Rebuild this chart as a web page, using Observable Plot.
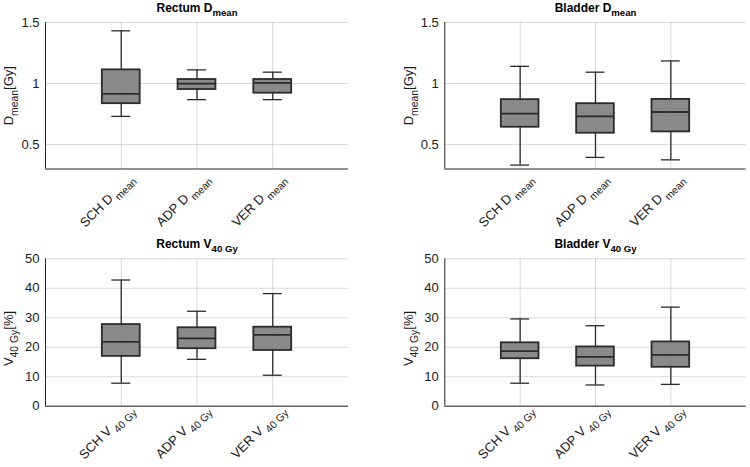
<!DOCTYPE html>
<html>
<head>
<meta charset="utf-8">
<script src="https://cdn.jsdelivr.net/npm/d3@7"></script>
<script src="https://cdn.jsdelivr.net/npm/@observablehq/plot@0.6"></script>
<style>
  html, body { margin: 0; padding: 0; background: #fff; }
  #root { position: relative; width: 750px; height: 467px; overflow: hidden; background: #fff; }
  #root svg { position: absolute; }
  #root text { white-space: pre; }
</style>
</head>
<body>
<div id="root"></div>
<script>
// ---------- data ----------
const groups = ["SCH", "ADP", "VER"];

// Rectum D_mean [Gy]
const rectumDmeanMin = [0.731, 0.868, 0.868];
const rectumDmeanQ1  = [0.835, 0.951, 0.921];
const rectumDmeanMed = [0.916, 1.000, 1.005];
const rectumDmeanQ3  = [1.112, 1.033, 1.033];
const rectumDmeanMax = [1.432, 1.112, 1.093];

// Bladder D_mean [Gy]
const bladderDmeanMin = [0.332, 0.395, 0.375];
const bladderDmeanQ1  = [0.642, 0.593, 0.604];
const bladderDmeanMed = [0.753, 0.731, 0.767];
const bladderDmeanQ3  = [0.868, 0.835, 0.870];
const bladderDmeanMax = [1.141, 1.093, 1.185];

// Rectum V40Gy [%]
const rectumV40Min = [7.8, 15.9, 10.5];
const rectumV40Q1  = [16.9, 19.5, 18.9];
const rectumV40Med = [21.8, 23.0, 24.2];
const rectumV40Q3  = [27.7, 26.6, 26.8];
const rectumV40Max = [42.8, 32.2, 38.2];

// Bladder V40Gy [%]
const bladderV40Min = [7.8, 7.2, 7.4];
const bladderV40Q1  = [16.1, 13.6, 13.2];
const bladderV40Med = [18.7, 16.7, 17.4];
const bladderV40Q3  = [21.5, 20.1, 21.8];
const bladderV40Max = [29.6, 27.3, 33.6];

const dmeanTicks = [0.5, 1, 1.5];
const dmeanTickLabels = ["0.5", "1", "1.5"];
const v40Ticks = [0, 10, 20, 30, 40, 50];
const v40TickLabels = ["0", "10", "20", "30", "40", "50"];

// ---------- helpers ----------
const FONT = "'Liberation Sans', Arial, Helvetica, sans-serif";
const DARK = "#2b2b2b";

function rows(mn, q1, med, q3, mx, suffix) {
  return groups.map((g, i) => ({
    label: g + " " + suffix, pos: i + 1,
    min: mn[i], q1: q1[i], med: med[i], q3: q3[i], max: mx[i]
  }));
}

function subify(svg) {
  d3.select(svg).selectAll("text").each(function () {
    const txt = this.textContent;
    if (!txt.includes("_{")) return;
    const fs = parseFloat(getComputedStyle(this).fontSize) || 12;
    const subSize = +(fs * 0.8).toFixed(2);
    const shift = +(fs * 0.38).toFixed(2);
    const parts = txt.split(/(_\{[^}]*\})/).filter(s => s.length);
    while (this.firstChild) this.removeChild(this.firstChild);
    let shifted = false;
    for (const p of parts) {
      const ts = document.createElementNS("http://www.w3.org/2000/svg", "tspan");
      if (p.startsWith("_{")) {
        ts.textContent = p.slice(2, -1);
        ts.setAttribute("font-size", subSize);
        ts.setAttribute("dy", shift);
        shifted = true;
      } else {
        ts.textContent = p;
        if (shifted) { ts.setAttribute("dy", -shift); shifted = false; }
      }
      this.appendChild(ts);
    }
  });
}

function panel(cfg) {
  const data = cfg.data;
  const svg = Plot.plot({
    width: 375,
    height: cfg.height,
    marginLeft: cfg.mL, marginRight: cfg.mR, marginTop: cfg.mT, marginBottom: cfg.mB,
    style: { fontFamily: FONT, background: "transparent", overflow: "visible" },
    x: { domain: [0, 4], axis: null },
    y: { domain: cfg.yDomain },
    marks: [
      Plot.gridY(cfg.ticks, { stroke: "#000", strokeOpacity: 0.15, strokeWidth: 1 }),
      Plot.gridX([1, 2, 3], { stroke: "#000", strokeOpacity: 0.15, strokeWidth: 1 }),
      Plot.ruleX(data, { x: "pos", y1: "min", y2: "q1", stroke: DARK, strokeWidth: 1.3 }),
      Plot.ruleX(data, { x: "pos", y1: "q3", y2: "max", stroke: DARK, strokeWidth: 1.3 }),
      Plot.ruleY(data, { y: "min", x1: d => d.pos - 0.125, x2: d => d.pos + 0.125, stroke: DARK, strokeWidth: 1.3 }),
      Plot.ruleY(data, { y: "max", x1: d => d.pos - 0.125, x2: d => d.pos + 0.125, stroke: DARK, strokeWidth: 1.3 }),
      Plot.rect(data, { x1: d => d.pos - 0.25, x2: d => d.pos + 0.25, y1: "q1", y2: "q3",
        fill: "#7a7a7a", fillOpacity: 0.88, stroke: DARK, strokeWidth: 1.8 }),
      Plot.ruleY(data, { y: "med", x1: d => d.pos - 0.25, x2: d => d.pos + 0.25, stroke: DARK, strokeWidth: 1.8 }),
      Plot.ruleX([0], { stroke: "#262626", strokeWidth: 1 }),
      Plot.ruleY([cfg.yDomain[0]], { stroke: "#262626", strokeWidth: 1 }),
      Plot.axisY(cfg.ticks, { tickSize: 0, tickPadding: 6, fontSize: 13, fill: "#1a1a1a",
        tickFormat: (d, i) => cfg.tickLabels[cfg.ticks.indexOf(d)], label: null }),
      Plot.text(data, { x: "pos", frameAnchor: "bottom", text: "label", rotate: -45,
        textAnchor: "end", lineAnchor: "middle", dx: cfg.labDx, dy: cfg.labDy, fontSize: 13, fill: "#1a1a1a" }),
      Plot.text([cfg.title], { frameAnchor: "top", text: d => d, lineAnchor: "bottom",
        dy: -11, fontSize: 12, fontWeight: "bold", fill: "#000" }),
      Plot.text([cfg.ylabel], { frameAnchor: "left", text: d => d, rotate: -90,
        textAnchor: "middle", dx: cfg.ylabDx, dy: cfg.ylabDy || 0, fontSize: 13, fill: "#1a1a1a" })
    ]
  });
  svg.style.left = cfg.left + "px";
  svg.style.top = cfg.top + "px";
  document.getElementById("root").appendChild(svg);
  subify(svg);
}

panel({
  data: rows(rectumDmeanMin, rectumDmeanQ1, rectumDmeanMed, rectumDmeanQ3, rectumDmeanMax, "D_{ mean}"),
  title: "Rectum D_{mean}", ylabel: "D_{mean}[Gy]",
  yDomain: [0.3, 1.5], ticks: dmeanTicks, tickLabels: dmeanTickLabels,
  left: 0, top: 0, height: 230, mL: 45, mR: 27, mT: 22, mB: 61.5, ylabDx: -37, labDx: 10, labDy: 7
});
panel({
  data: rows(bladderDmeanMin, bladderDmeanQ1, bladderDmeanMed, bladderDmeanQ3, bladderDmeanMax, "D_{ mean}"),
  title: "Bladder D_{mean}", ylabel: "D_{mean}[Gy]",
  yDomain: [0.3, 1.5], ticks: dmeanTicks, tickLabels: dmeanTickLabels,
  left: 375, top: 0, height: 230, mL: 69.3, mR: 4.3, mT: 22, mB: 61.5, ylabDx: -36, labDx: 10, labDy: 7
});
panel({
  data: rows(rectumV40Min, rectumV40Q1, rectumV40Med, rectumV40Q3, rectumV40Max, "V_{ 40 Gy}"),
  title: "Rectum V_{40 Gy}", ylabel: "V_{40 Gy}[%]",
  yDomain: [0, 50], ticks: v40Ticks, tickLabels: v40TickLabels,
  left: 0, top: 230, height: 237, mL: 45, mR: 27, mT: 28.3, mB: 61.3, ylabDx: -37, ylabDy: 6, labDx: 10, labDy: 1
});
panel({
  data: rows(bladderV40Min, bladderV40Q1, bladderV40Med, bladderV40Q3, bladderV40Max, "V_{ 40 Gy}"),
  title: "Bladder V_{40 Gy}", ylabel: "V_{40 Gy}[%]",
  yDomain: [0, 50], ticks: v40Ticks, tickLabels: v40TickLabels,
  left: 375, top: 230, height: 237, mL: 69.3, mR: 4.3, mT: 28.3, mB: 61.3, ylabDx: -36, ylabDy: 6, labDx: 10, labDy: 1
});
</script>
</body>
</html>
